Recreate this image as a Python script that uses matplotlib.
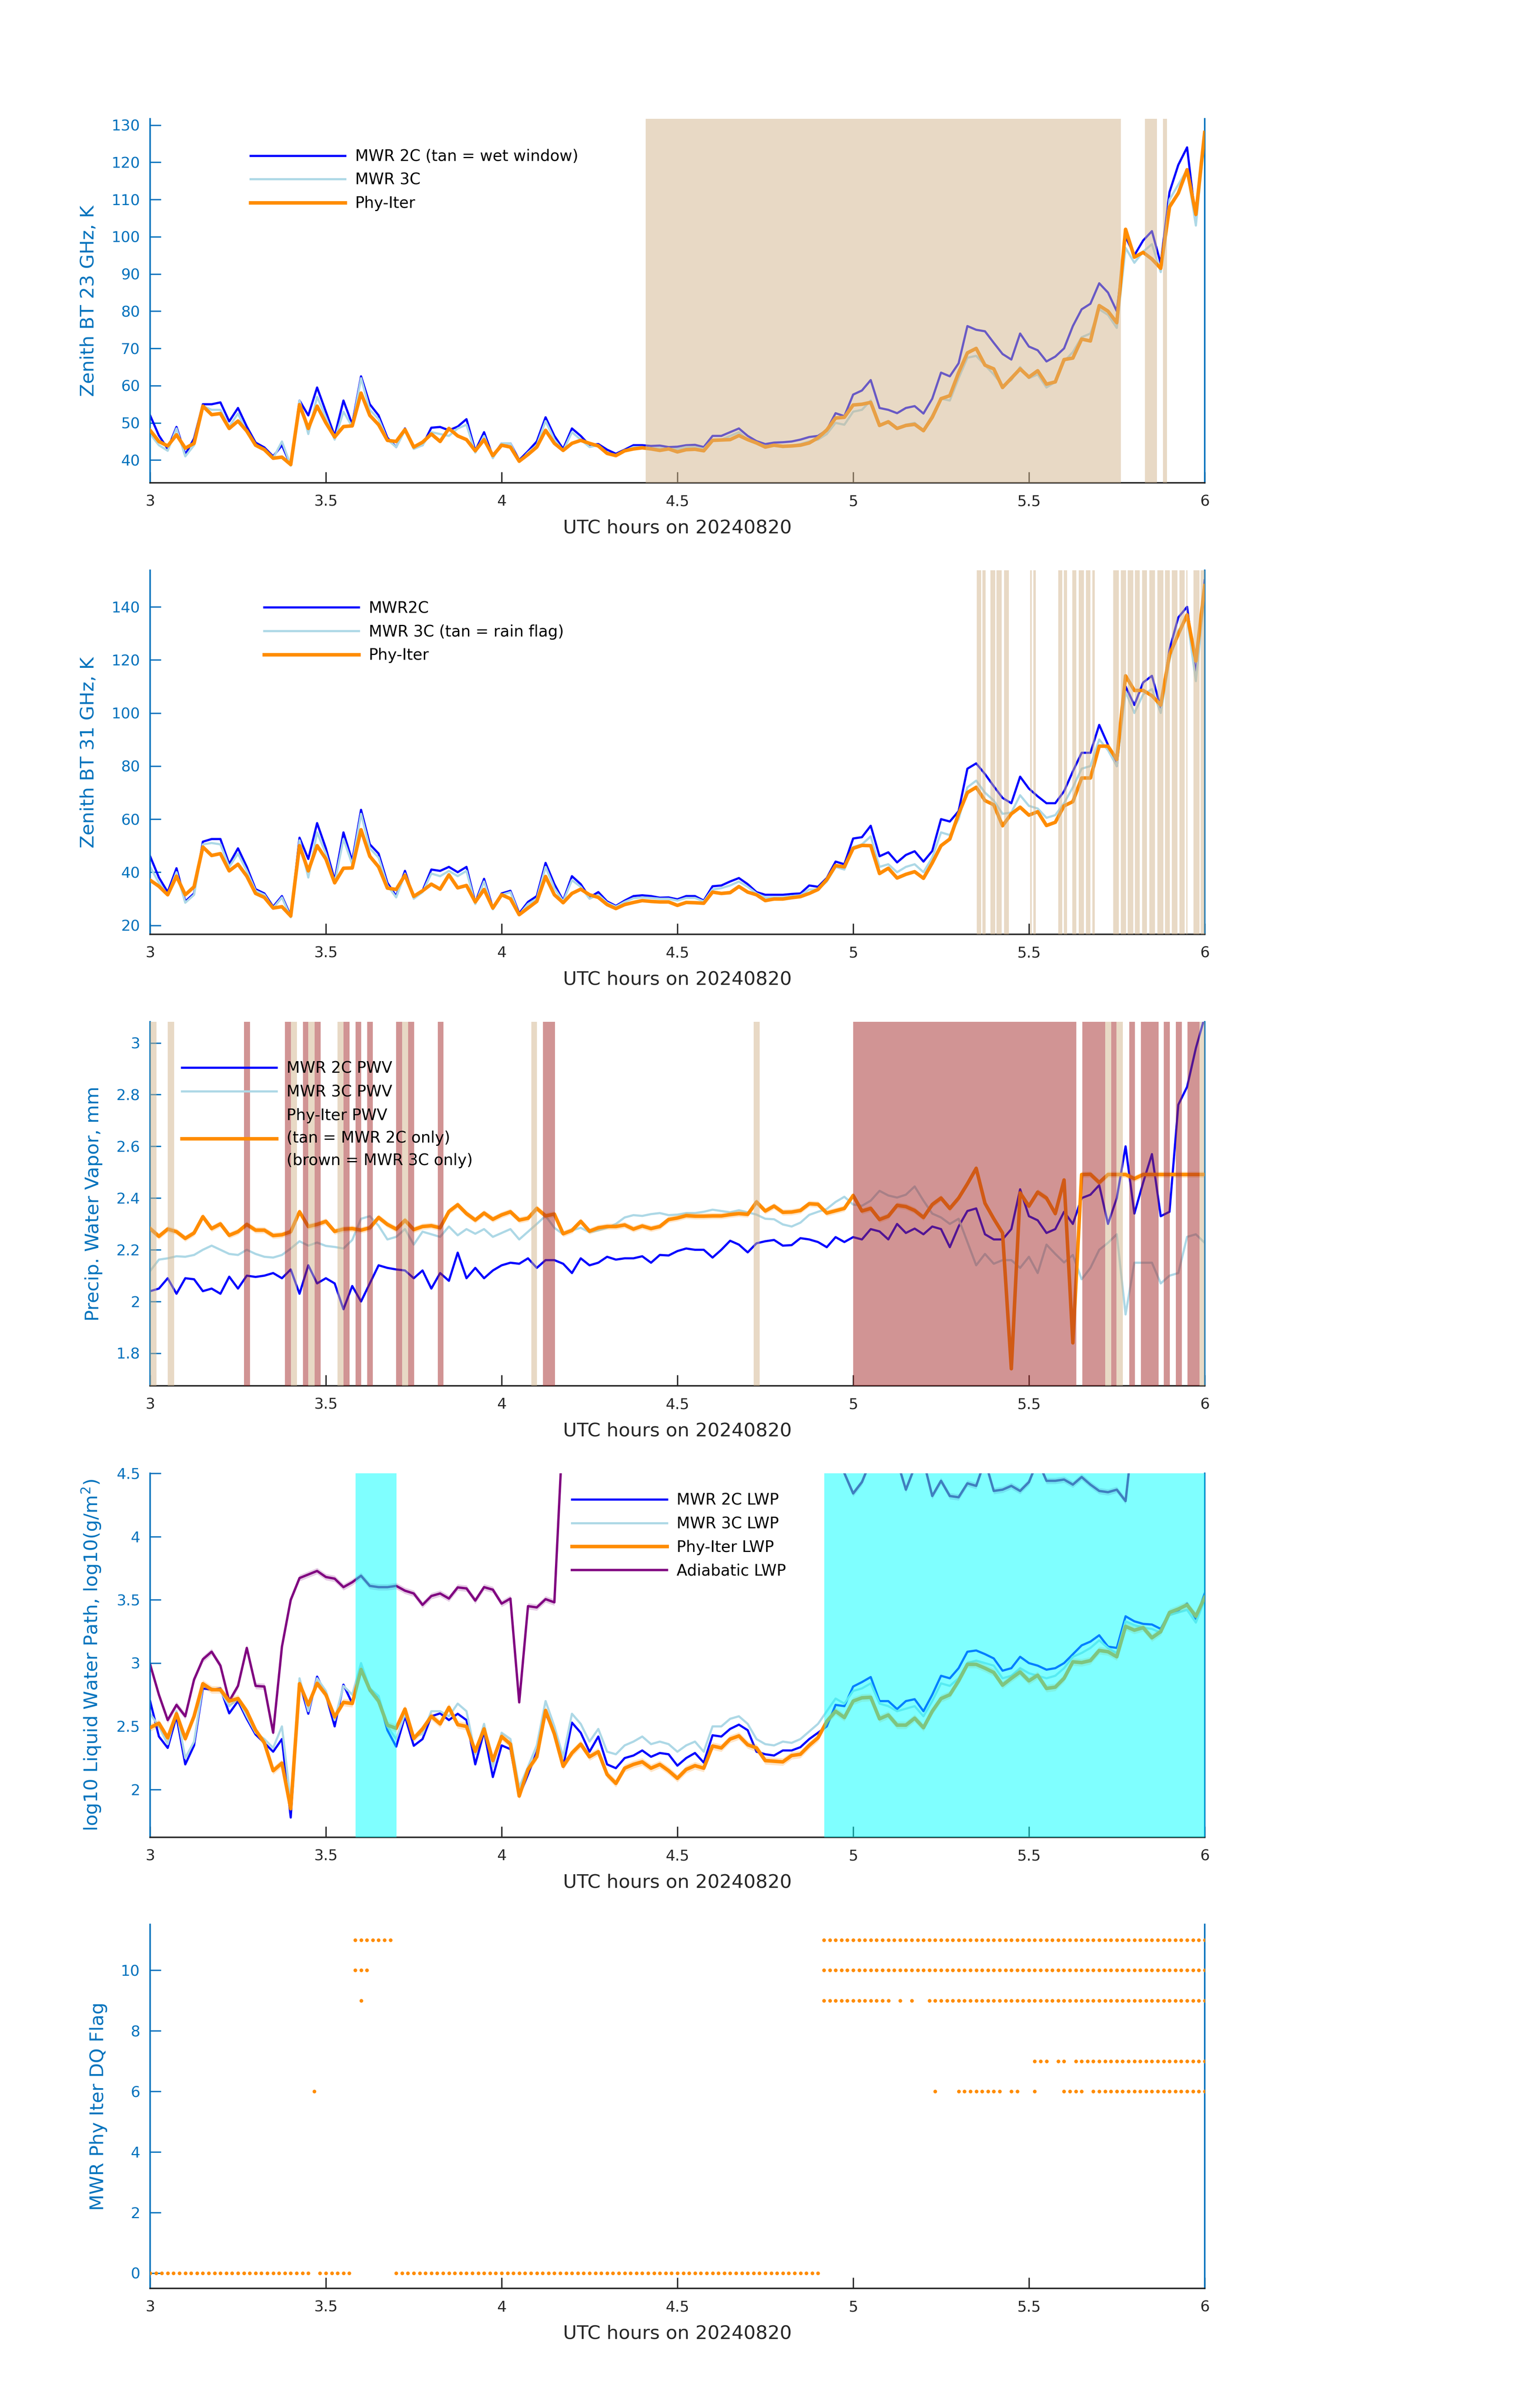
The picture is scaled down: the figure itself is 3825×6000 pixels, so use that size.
import numpy as np
import matplotlib
matplotlib.use('Agg')
import matplotlib.pyplot as plt
from matplotlib.ticker import FuncFormatter

plt.rcParams['font.family'] = ['DejaVu Sans']

# ---------------- data ----------------
time_hr = np.linspace(3.0, 6.0, 121)   # 1.5-minute grid, UTC hours

bt23_2c = [52, 46.6, 43, 48.9, 41.5, 45.8, 55, 55, 55.5, 50.4,
           54, 49, 44.7, 43.4, 41, 44, 38.6, 56, 52, 59.5,
           53, 46.5, 56, 49.6, 62.5, 55, 52, 46, 43.5, 48.5,
           43.4, 44, 48.7, 48.9, 48, 49, 51, 42.5, 47.5, 41,
           44.5, 44.5, 40, 42.4, 45, 51.5, 46.5, 43, 48.5, 46.5,
           44, 44.3, 42.8, 41.7, 42.8, 44, 44, 43.8, 43.9, 43.5,
           43.6, 44, 44.1, 43.5, 46.5, 46.5, 47.5, 48.5, 46.5, 45.1,
           44.3, 44.7, 44.8, 45, 45.5, 46.2, 46.5, 48.1, 52.6, 51.8,
           57.6, 58.7, 61.5, 54, 53.5, 52.6, 54, 54.5, 52.5, 56.5,
           63.5, 62.5, 66, 76, 75, 74.6, 71.5, 68.5, 67, 74,
           70.5, 69.5, 66.5, 67.8, 70, 76, 80.5, 82, 87.5, 85,
           80, 100, 95, 99, 101.5, 92.8, 112, 119.3, 124, 104,
           128]
bt23_3c = [47, 44, 42.5, 48.5, 41, 44, 54.5, 53.5, 53.5, 49,
           52.5, 47.5, 44, 43, 40.5, 45, 38.5, 56, 47, 57,
           51.5, 45.5, 53, 49, 62, 53.5, 51, 45.5, 43.5, 48,
           43, 44, 47.5, 47, 46.5, 48.5, 49.5, 42, 46.5, 40.5,
           44.5, 44.5, 39.5, 42, 44, 50.5, 45.5, 42.5, 47.5, 45.5,
           43.5, 44, 42, 41.3, 42.5, 43.5, 43.5, 43.2, 43.2, 43,
           43, 43.5, 43.5, 43, 45.5, 45.5, 46.5, 47.5, 45.5, 44.5,
           43.8, 43.8, 43.5, 43.8, 44.3, 45, 45.5, 47, 50, 49.5,
           53, 53.5, 56, 49.5, 50, 48.5, 49.5, 50, 48, 52,
           56.5, 56, 62, 67.5, 68, 65.5, 63, 60, 61.5, 65,
           62, 63, 59.5, 61, 66.5, 69, 73, 74, 80.5, 79,
           75.5, 97, 93, 96, 98, 90.5, 110, 114, 118, 103,
           127]
bt23_phy = [48, 45, 43.8, 46.8, 43.2, 44.5, 54.5, 52.2, 52.5, 48.5,
            50.5, 47.8, 44, 42.8, 40.5, 40.8, 38.8, 54.9, 48.5, 54.5,
            50, 46.2, 49, 49.2, 58, 52, 49.5, 45.3, 45, 48.2,
            43.5, 44.8, 47, 45, 48.5, 46.5, 45.5, 42.5, 45.5, 41.2,
            44, 43.5, 39.7, 41.5, 43.5, 48, 44.5, 42.6, 44.5, 45.3,
            44.5, 43.8, 41.8, 41.2, 42.5, 43, 43.3, 43, 42.6, 43,
            42.2, 42.8, 42.9, 42.5, 45.3, 45.4, 45.5, 46.6, 45.5, 44.6,
            43.5, 44.0, 43.7, 43.8, 44.0, 44.6, 46.0, 48.1, 51.3, 51.5,
            54.8, 55.0, 55.5, 49.3, 50.3, 48.5, 49.3, 49.6, 47.9, 51.5,
            56.5, 57.3, 63.5, 68.8, 70.0, 65.5, 64.5, 59.5, 62.0, 64.5,
            62.3, 64.0, 60.4, 61.0, 67.0, 67.4, 72.5, 72.0, 81.5, 80.0,
            76.9, 102, 94.5, 95.8, 94.0, 91.5, 108, 111.7, 118, 106,
            128]
wet_window = [(4.410, 5.762), (5.830, 5.864), (5.881, 5.893)]

bt31_2c = [46, 38, 32.5, 41.5, 29, 32, 51.5, 52.5, 52.5, 43.1,
           49, 42, 33.6, 32, 27, 31, 23.5, 53, 45, 58.5,
           49, 37, 55, 44.2, 63.5, 50.5, 47, 36, 31, 40.5,
           30.4, 33, 41, 40.5, 42, 40, 42, 28.5, 37.5, 26.5,
           32, 33, 24.5, 28.8, 31, 43.5, 35.5, 29.3, 38.5, 35.5,
           30.5, 32.5, 29, 27.3, 29.3, 31, 31.3, 31, 30.4, 30.5,
           29.8, 31, 31, 29.3, 34.7, 35, 36.5, 37.8, 35.5, 32.5,
           31.5, 31.5, 31.5, 31.8, 32, 35, 34.5, 37.8, 44, 43,
           52.7, 53.2, 57.5, 46, 47.5, 43.7, 46.5, 47.9, 44, 48,
           60, 59.1, 63, 79, 81, 77, 72.4, 68, 66, 76,
           71.5, 68.6, 66, 66, 70.5, 78, 85, 85, 95.5, 88,
           80, 110, 103, 111.5, 114, 102, 124, 136, 140, 114.3,
           150]
bt31_3c = [42, 36, 31.5, 40, 28.5, 31.5, 50.5, 51, 50.5, 42,
           47, 40.5, 33, 31.5, 26.5, 30.5, 23, 52, 38, 55,
           47, 36, 52.5, 43, 62, 49, 45.5, 35, 30.5, 39.5,
           30, 32.5, 39.5, 38.5, 40.5, 38.5, 40.5, 28, 36.5, 26,
           31.5, 32.5, 24, 28, 30, 42, 34, 29, 37, 34.5,
           30, 31.5, 28.5, 27, 28.8, 30.2, 30.5, 30.3, 30, 30,
           29.3, 30.3, 30.3, 29, 33.5, 34, 35, 36.5, 34.5, 32,
           30.5, 30.5, 30.5, 31, 31.3, 33.5, 33.5, 36.5, 42, 41,
           49.5, 50.5, 53.5, 42, 43, 40, 42, 43, 40, 45.5,
           55, 54, 60, 72, 74.5, 70, 67, 62, 62.5, 69,
           65, 64, 60.5, 61.5, 66, 72, 79, 80, 90, 86,
           80, 108, 100, 107, 109, 100, 120, 131, 136, 112,
           145]
bt31_phy = [37, 34.7, 31.5, 38.5, 31.5, 34.5, 49.5, 46.3, 47, 40.5,
            43, 38.5, 32, 30.5, 26.5, 27, 23.5, 50, 40.5, 50,
            45, 36, 41.5, 41.6, 56, 46, 42, 34, 33.5, 38.9,
            30.9, 33, 35.5, 33.6, 39, 34.1, 35, 28.8, 33.5, 26.5,
            31.5, 30, 24, 26.5, 29, 38.4, 31.5, 28.5, 32, 33.6,
            31.5, 30.5, 27.8, 26.3, 27.8, 28.6, 29.3, 29, 28.8, 28.8,
            27.5, 28.6, 28.5, 28.3, 32.5, 32, 32.3, 34.6, 32.5, 31.5,
            29.3, 29.9, 29.9, 30.4, 30.8, 32, 33.5, 37.2, 42.5, 42,
            49, 50.1, 50, 39.5, 41.5, 37.8, 39.2, 40.2, 37.7, 43.5,
            50, 52.5, 62, 70, 72, 67, 65.4, 57.5, 62, 64.5,
            61.5, 62.8, 57.6, 58.8, 65, 66.6, 75.5, 75.5, 87.5, 87.5,
            82.5, 114, 108.5, 108.5, 106.5, 103, 122, 129.7, 137, 119.6,
            148]
rain_flag = [(5.352, 5.364), (5.368, 5.377), (5.391, 5.404), (5.408, 5.422), (5.429, 5.443),
             (5.503, 5.508), (5.513, 5.519),
             (5.584, 5.595), (5.599, 5.609), (5.623, 5.635), (5.642, 5.656), (5.662, 5.675), (5.681, 5.687),
             (5.740, 5.756), (5.762, 5.776), (5.781, 5.797), (5.802, 5.815), (5.822, 5.836),
             (5.843, 5.859), (5.865, 5.882), (5.887, 5.901), (5.907, 5.922), (5.928, 5.943),
             (5.948, 5.951), (5.968, 5.985), (5.989, 6.003)]

pwv_2c = [2.04, 2.05, 2.09, 2.03, 2.09, 2.086, 2.04, 2.05, 2.03, 2.096,
          2.05, 2.10, 2.095, 2.10, 2.11, 2.09, 2.124, 2.03, 2.14, 2.07,
          2.09, 2.07, 1.97, 2.06, 2.00, 2.07, 2.14, 2.13, 2.124, 2.12,
          2.09, 2.12, 2.05, 2.11, 2.08, 2.189, 2.09, 2.13, 2.09, 2.12,
          2.14, 2.15, 2.146, 2.167, 2.13, 2.16, 2.16, 2.146, 2.11, 2.167,
          2.14, 2.15, 2.173, 2.162, 2.167, 2.167, 2.175, 2.15, 2.18, 2.178,
          2.195, 2.205, 2.20, 2.20, 2.17, 2.20, 2.235, 2.22, 2.19, 2.225,
          2.233, 2.238, 2.216, 2.218, 2.245, 2.24, 2.23, 2.21, 2.249, 2.23,
          2.249, 2.24, 2.28, 2.271, 2.24, 2.30, 2.265, 2.282, 2.26, 2.29,
          2.28, 2.21, 2.29, 2.35, 2.36, 2.26, 2.24, 2.24, 2.28, 2.434,
          2.33, 2.314, 2.265, 2.28, 2.347, 2.30, 2.40, 2.413, 2.45, 2.30,
          2.40, 2.60, 2.34, 2.46, 2.57, 2.33, 2.347, 2.761, 2.83, 2.98,
          3.1]
pwv_3c = [2.118, 2.162, 2.167, 2.175, 2.173, 2.18, 2.20, 2.216, 2.20, 2.184,
          2.18, 2.20, 2.184, 2.173, 2.17, 2.18, 2.205, 2.233, 2.216, 2.228,
          2.215, 2.211, 2.205, 2.238, 2.32, 2.33, 2.293, 2.24, 2.25, 2.28,
          2.22, 2.27, 2.26, 2.25, 2.29, 2.256, 2.28, 2.262, 2.28, 2.25,
          2.265, 2.28, 2.24, 2.27, 2.30, 2.331, 2.285, 2.26, 2.275, 2.285,
          2.268, 2.275, 2.285, 2.30, 2.325, 2.334, 2.331, 2.338, 2.342, 2.334,
          2.336, 2.342, 2.342, 2.347, 2.355, 2.35, 2.345, 2.353, 2.345, 2.336,
          2.32, 2.318, 2.298, 2.29, 2.305, 2.335, 2.347, 2.358, 2.385, 2.405,
          2.375, 2.37, 2.39, 2.428, 2.41, 2.402, 2.413, 2.445, 2.39, 2.34,
          2.325, 2.30, 2.32, 2.23, 2.14, 2.184, 2.146, 2.16, 2.16, 2.13,
          2.173, 2.11, 2.22, 2.184, 2.151, 2.18, 2.086, 2.13, 2.20, 2.227,
          2.26, 1.95, 2.15, 2.15, 2.15, 2.07, 2.10, 2.11, 2.25, 2.26,
          2.227]
pwv_phy = [2.282, 2.252, 2.28, 2.27, 2.244, 2.265, 2.328, 2.282, 2.30, 2.256,
           2.27, 2.298, 2.276, 2.276, 2.255, 2.258, 2.27, 2.347, 2.29, 2.298,
           2.31, 2.271, 2.28, 2.282, 2.276, 2.285, 2.325, 2.298, 2.28, 2.314,
           2.278, 2.29, 2.293, 2.285, 2.348, 2.374, 2.34, 2.315, 2.342, 2.318,
           2.335, 2.347, 2.315, 2.322, 2.36, 2.331, 2.338, 2.262, 2.275, 2.31,
           2.272, 2.285, 2.29, 2.29, 2.296, 2.28, 2.292, 2.282, 2.29, 2.317,
           2.323, 2.332, 2.33, 2.33, 2.331, 2.331, 2.336, 2.34, 2.337, 2.385,
           2.35, 2.369, 2.345, 2.346, 2.352, 2.378, 2.376, 2.342, 2.351, 2.36,
           2.41, 2.35, 2.36, 2.317, 2.33, 2.372, 2.367, 2.352, 2.325, 2.375,
           2.40, 2.36, 2.40, 2.455, 2.515, 2.38, 2.32, 2.265, 1.74, 2.42,
           2.369, 2.423, 2.40, 2.34, 2.47, 1.84, 2.491, 2.492, 2.46, 2.491,
           2.491, 2.491, 2.475, 2.491, 2.491, 2.491, 2.491, 2.491, 2.491, 2.491,
           2.491]
pwv_phy_unc = 0.012
mwr2c_only = [(3.000, 3.018), (3.050, 3.068), (3.401, 3.418), (3.450, 3.468), (3.533, 3.550),
              (3.717, 3.734), (4.084, 4.100), (4.717, 4.734), (5.717, 5.734), (5.749, 5.767),
              (5.985, 6.000)]
mwr3c_only = [(3.267, 3.284), (3.384, 3.401), (3.435, 3.450), (3.468, 3.485), (3.550, 3.567),
              (3.584, 3.600), (3.617, 3.634), (3.700, 3.717), (3.734, 3.751), (3.818, 3.834),
              (4.118, 4.152), (5.000, 5.635), (5.652, 5.717), (5.734, 5.749), (5.786, 5.801),
              (5.819, 5.869), (5.884, 5.901), (5.918, 5.935), (5.951, 5.985)]

lwp_2c = [2.70, 2.42, 2.33, 2.58, 2.20, 2.35, 2.80, 2.79, 2.80, 2.603,
          2.70, 2.56, 2.436, 2.37, 2.30, 2.40, 1.78, 2.85, 2.60, 2.893,
          2.75, 2.50, 2.83, 2.681, 2.95, 2.78, 2.72, 2.47, 2.34, 2.58,
          2.347, 2.40, 2.58, 2.603, 2.55, 2.60, 2.55, 2.20, 2.46, 2.10,
          2.35, 2.32, 1.95, 2.12, 2.30, 2.60, 2.45, 2.18, 2.53, 2.45,
          2.30, 2.42, 2.20, 2.17, 2.25, 2.27, 2.31, 2.26, 2.29, 2.28,
          2.19, 2.25, 2.29, 2.214, 2.43, 2.42, 2.48, 2.514, 2.47, 2.30,
          2.28, 2.27, 2.31, 2.31, 2.336, 2.40, 2.45, 2.50, 2.67, 2.66,
          2.815, 2.85, 2.89, 2.70, 2.70, 2.637, 2.70, 2.715, 2.62, 2.75,
          2.90, 2.88, 2.96, 3.09, 3.10, 3.071, 3.037, 2.94, 2.96, 3.05,
          3.00, 2.98, 2.948, 2.96, 3.00, 3.07, 3.14, 3.17, 3.22, 3.13,
          3.12, 3.37, 3.33, 3.31, 3.305, 3.27, 3.40, 3.416, 3.47, 3.35,
          3.55]
lwp_3c = [2.60, 2.50, 2.36, 2.62, 2.25, 2.38, 2.82, 2.80, 2.78, 2.66,
          2.72, 2.58, 2.45, 2.40, 2.33, 2.50, 1.90, 2.88, 2.62, 2.88,
          2.78, 2.55, 2.82, 2.75, 3.00, 2.80, 2.74, 2.50, 2.40, 2.60,
          2.42, 2.44, 2.62, 2.62, 2.58, 2.68, 2.62, 2.28, 2.52, 2.18,
          2.45, 2.40, 2.02, 2.18, 2.35, 2.70, 2.50, 2.26, 2.60, 2.52,
          2.38, 2.48, 2.30, 2.28, 2.35, 2.38, 2.42, 2.36, 2.38, 2.36,
          2.30, 2.35, 2.38, 2.30, 2.50, 2.50, 2.56, 2.58, 2.52, 2.40,
          2.36, 2.35, 2.38, 2.37, 2.40, 2.46, 2.52, 2.62, 2.72, 2.68,
          2.78, 2.80, 2.84, 2.68, 2.66, 2.62, 2.64, 2.66, 2.58, 2.70,
          2.84, 2.82, 2.88, 3.00, 3.02, 3.00, 2.98, 2.88, 2.90, 2.96,
          2.92, 2.90, 2.88, 2.90, 2.96, 3.05, 3.08, 3.12, 3.18, 3.12,
          3.08, 3.33, 3.30, 3.28, 3.27, 3.24, 3.38, 3.40, 3.42, 3.32,
          3.50]
lwp_phy = [2.49, 2.525, 2.41, 2.60, 2.403, 2.58, 2.837, 2.79, 2.79, 2.70,
           2.72, 2.62, 2.47, 2.37, 2.15, 2.21, 1.85, 2.837, 2.67, 2.84,
           2.75, 2.575, 2.69, 2.681, 2.95, 2.79, 2.70, 2.51, 2.485, 2.637,
           2.405, 2.48, 2.58, 2.52, 2.65, 2.514, 2.50, 2.303, 2.48, 2.23,
           2.42, 2.36, 1.95, 2.16, 2.26, 2.626, 2.44, 2.185, 2.29, 2.36,
           2.26, 2.30, 2.12, 2.05, 2.17, 2.20, 2.22, 2.17, 2.20, 2.15,
           2.09, 2.16, 2.19, 2.17, 2.345, 2.33, 2.40, 2.425, 2.355, 2.33,
           2.23, 2.225, 2.22, 2.27, 2.28, 2.35, 2.41, 2.54, 2.62, 2.57,
           2.70, 2.726, 2.73, 2.56, 2.59, 2.51, 2.51, 2.565, 2.49, 2.62,
           2.72, 2.75, 2.86, 2.99, 2.99, 2.96, 2.926, 2.826, 2.88, 2.93,
           2.86, 2.904, 2.80, 2.81, 2.88, 3.01, 3.004, 3.02, 3.10, 3.09,
           3.05, 3.29, 3.26, 3.28, 3.20, 3.249, 3.40, 3.427, 3.46, 3.37,
           3.52]
lwp_adiab = [2.99, 2.75, 2.55, 2.67, 2.58, 2.87, 3.03, 3.09, 2.98, 2.70,
             2.82, 3.12, 2.82, 2.815, 2.45, 3.13, 3.50, 3.672, 3.70, 3.728,
             3.68, 3.667, 3.60, 3.639, 3.69, 3.61, 3.60, 3.60, 3.61, 3.572,
             3.55, 3.46, 3.53, 3.55, 3.51, 3.598, 3.59, 3.494, 3.60, 3.58,
             3.47, 3.51, 2.69, 3.45, 3.44, 3.505, 3.48, 4.9, 4.9, 4.9,
             4.9, 4.9, 4.9, 4.9, 4.9, 4.9, 4.9, 4.9, 4.9, 4.9,
             4.9, 4.9, 4.9, 4.9, 4.9, 4.9, 4.9, 4.9, 4.9, 4.9,
             4.9, 4.9, 4.9, 4.9, 4.9, 4.9, 4.9, 4.9, 4.9, 4.50,
             4.34, 4.43, 4.6, 4.6, 4.6, 4.6, 4.37, 4.55, 4.6, 4.32,
             4.44, 4.32, 4.31, 4.42, 4.40, 4.6, 4.36, 4.37, 4.40, 4.36,
             4.43, 4.6, 4.44, 4.44, 4.45, 4.41, 4.47, 4.41, 4.36, 4.35,
             4.37, 4.28, 4.9, 4.9, 4.9, 4.9, 4.9, 4.9, 4.9, 4.9,
             4.9]
lwp_phy_unc = 0.03
lwp_adiab_unc = 0.025
cloud_spans = [(3.584, 3.701), (4.918, 6.010)]

# DQ flag: minutes after 03:00 UTC at which each flag value is set
dq_flag_minutes = {
    0: list(range(0, 28)) + list(range(29, 35)) + list(range(42, 115)),
    6: [28, 134] + list(range(138, 146)) + [147, 148, 151] + list(range(156, 160)) + list(range(161, 181)),
    7: [151, 152, 153, 155, 156] + list(range(158, 181)),
    9: [36] + list(range(115, 127)) + [128, 130] + list(range(133, 181)),
    10: [35, 36, 37] + list(range(115, 181)),
    11: list(range(35, 42)) + list(range(115, 181)),
}

# ---------------- style ----------------
AXBLUE = '#0072BD'
DARK = '#262626'
C_2C = 'blue'
C_3C = 'lightblue'
C_PHY = 'darkorange'
C_AD = 'purple'

fig = plt.figure(figsize=(12.75, 20), dpi=300)
left, width, height = 0.0978, 0.687, 0.1512
bottoms = [0.7995, 0.612, 0.4245, 0.237, 0.0496]
axes = [fig.add_axes([left, b, width, height]) for b in bottoms]

fmt = FuncFormatter(lambda v, p: '%g' % v)


def style(ax, ylim, yticks, ylabel):
    ax.set_xlim(3, 6)
    ax.set_ylim(*ylim)
    ax.set_xticks([3, 3.5, 4, 4.5, 5, 5.5, 6])
    ax.set_yticks(yticks)
    ax.xaxis.set_major_formatter(fmt)
    ax.yaxis.set_major_formatter(fmt)
    ax.spines['top'].set_visible(False)
    ax.spines['left'].set_color(AXBLUE)
    ax.spines['right'].set_color(AXBLUE)
    ax.spines['bottom'].set_color(DARK)
    for s in ax.spines.values():
        s.set_linewidth(0.9)
    ax.tick_params(axis='x', direction='in', length=6.5, width=0.8, colors=DARK,
                   labelsize=9, pad=7)
    ax.tick_params(axis='y', direction='in', length=6.5, width=0.8, colors=AXBLUE,
                   labelsize=9, pad=6, right=False)
    ax.set_xlabel('UTC hours on 20240820', fontsize=11.3, color=DARK, labelpad=6)
    ax.set_ylabel(ylabel, fontsize=11.3, color=AXBLUE, labelpad=8)


def spans(ax, lst, color):
    for a, b in lst:
        ax.axvspan(a, b, color=color, alpha=0.5, lw=0, zorder=4)


def legend(ax, x, y, linesp=None):
    lg = ax.legend(loc='upper left', bbox_to_anchor=(x, y), frameon=False, fontsize=9.3,
                   handlelength=6.1, handletextpad=0.63, labelspacing=0.53,
                   borderpad=0, borderaxespad=0)
    lg.set_zorder(10)
    if linesp:
        for t in lg.get_texts():
            t.set_linespacing(linesp)
    return lg


# Panel 1
ax = axes[0]
ax.plot(time_hr, bt23_2c, color=C_2C, lw=1.3, label='MWR 2C (tan = wet window)', zorder=2)
ax.plot(time_hr, bt23_3c, color=C_3C, lw=1.3, label='MWR 3C', zorder=2.1)
ax.plot(time_hr, bt23_phy, color=C_PHY, lw=2.1, label='Phy-Iter', zorder=3)
spans(ax, wet_window, 'tan')
style(ax, (33.9, 131.7), np.arange(40, 131, 10), 'Zenith BT 23 GHz, K')
legend(ax, 0.095, 0.917)

# Panel 2
ax = axes[1]
ax.plot(time_hr, bt31_2c, color=C_2C, lw=1.3, label='MWR2C', zorder=2)
ax.plot(time_hr, bt31_3c, color=C_3C, lw=1.3, label='MWR 3C (tan = rain flag)', zorder=2.1)
ax.plot(time_hr, bt31_phy, color=C_PHY, lw=2.1, label='Phy-Iter', zorder=3)
spans(ax, rain_flag, 'tan')
style(ax, (16.6, 153.8), np.arange(20, 141, 20), 'Zenith BT 31 GHz, K')
legend(ax, 0.108, 0.916)

# Panel 3
ax = axes[2]
pp = np.array(pwv_phy)
ax.plot(time_hr, pwv_2c, color=C_2C, lw=1.3, label='MWR 2C PWV', zorder=2)
ax.plot(time_hr, pwv_3c, color=C_3C, lw=1.3, label='MWR 3C PWV', zorder=2.1)
ax.fill_between(time_hr, pp - pwv_phy_unc, pp + pwv_phy_unc, color=C_PHY, alpha=0.22, lw=0, zorder=2.5)
ax.plot(time_hr, pp, color=C_PHY, lw=2.1,
        label='Phy-Iter PWV\n(tan = MWR 2C only)\n(brown = MWR 3C only)', zorder=3)
spans(ax, mwr2c_only, 'tan')
spans(ax, mwr3c_only, 'brown')
style(ax, (1.674, 3.082), [1.8, 2.0, 2.2, 2.4, 2.6, 2.8, 3.0], 'Precip. Water Vapor, mm')
legend(ax, 0.030, 0.892, linesp=1.6)

# Panel 4
ax = axes[3]
la = np.array(lwp_adiab)
lp = np.array(lwp_phy)
ax.plot(time_hr, lwp_2c, color=C_2C, lw=1.3, label='MWR 2C LWP', zorder=2)
ax.plot(time_hr, lwp_3c, color=C_3C, lw=1.3, label='MWR 3C LWP', zorder=2.1)
ax.fill_between(time_hr, lp - lwp_phy_unc, lp + lwp_phy_unc, color=C_PHY, alpha=0.22, lw=0, zorder=2.5)
ax.plot(time_hr, lp, color=C_PHY, lw=2.1, label='Phy-Iter LWP', zorder=3)
ax.fill_between(time_hr, la - lwp_adiab_unc, la + lwp_adiab_unc, color=C_AD, alpha=0.2, lw=0, zorder=1.9)
ax.plot(time_hr, la, color=C_AD, lw=1.4, label='Adiabatic LWP', zorder=2)
spans(ax, cloud_spans, 'cyan')
style(ax, (1.624, 4.5), [2, 2.5, 3, 3.5, 4, 4.5], r'log10 Liquid Water Path, log10(g/m$^2$)')
legend(ax, 0.40, 0.946)

# Panel 5
ax = axes[4]
for flag, mins in dq_flag_minutes.items():
    tt = 3.0 + np.array(mins) / 60.0
    ax.plot(tt, np.full(len(tt), flag), 'o', color=C_PHY, ms=2.2, mew=0, zorder=3)
style(ax, (-0.51, 11.51), [0, 2, 4, 6, 8, 10], 'MWR Phy Iter DQ Flag')

fig.savefig('out.png', dpi=300)
